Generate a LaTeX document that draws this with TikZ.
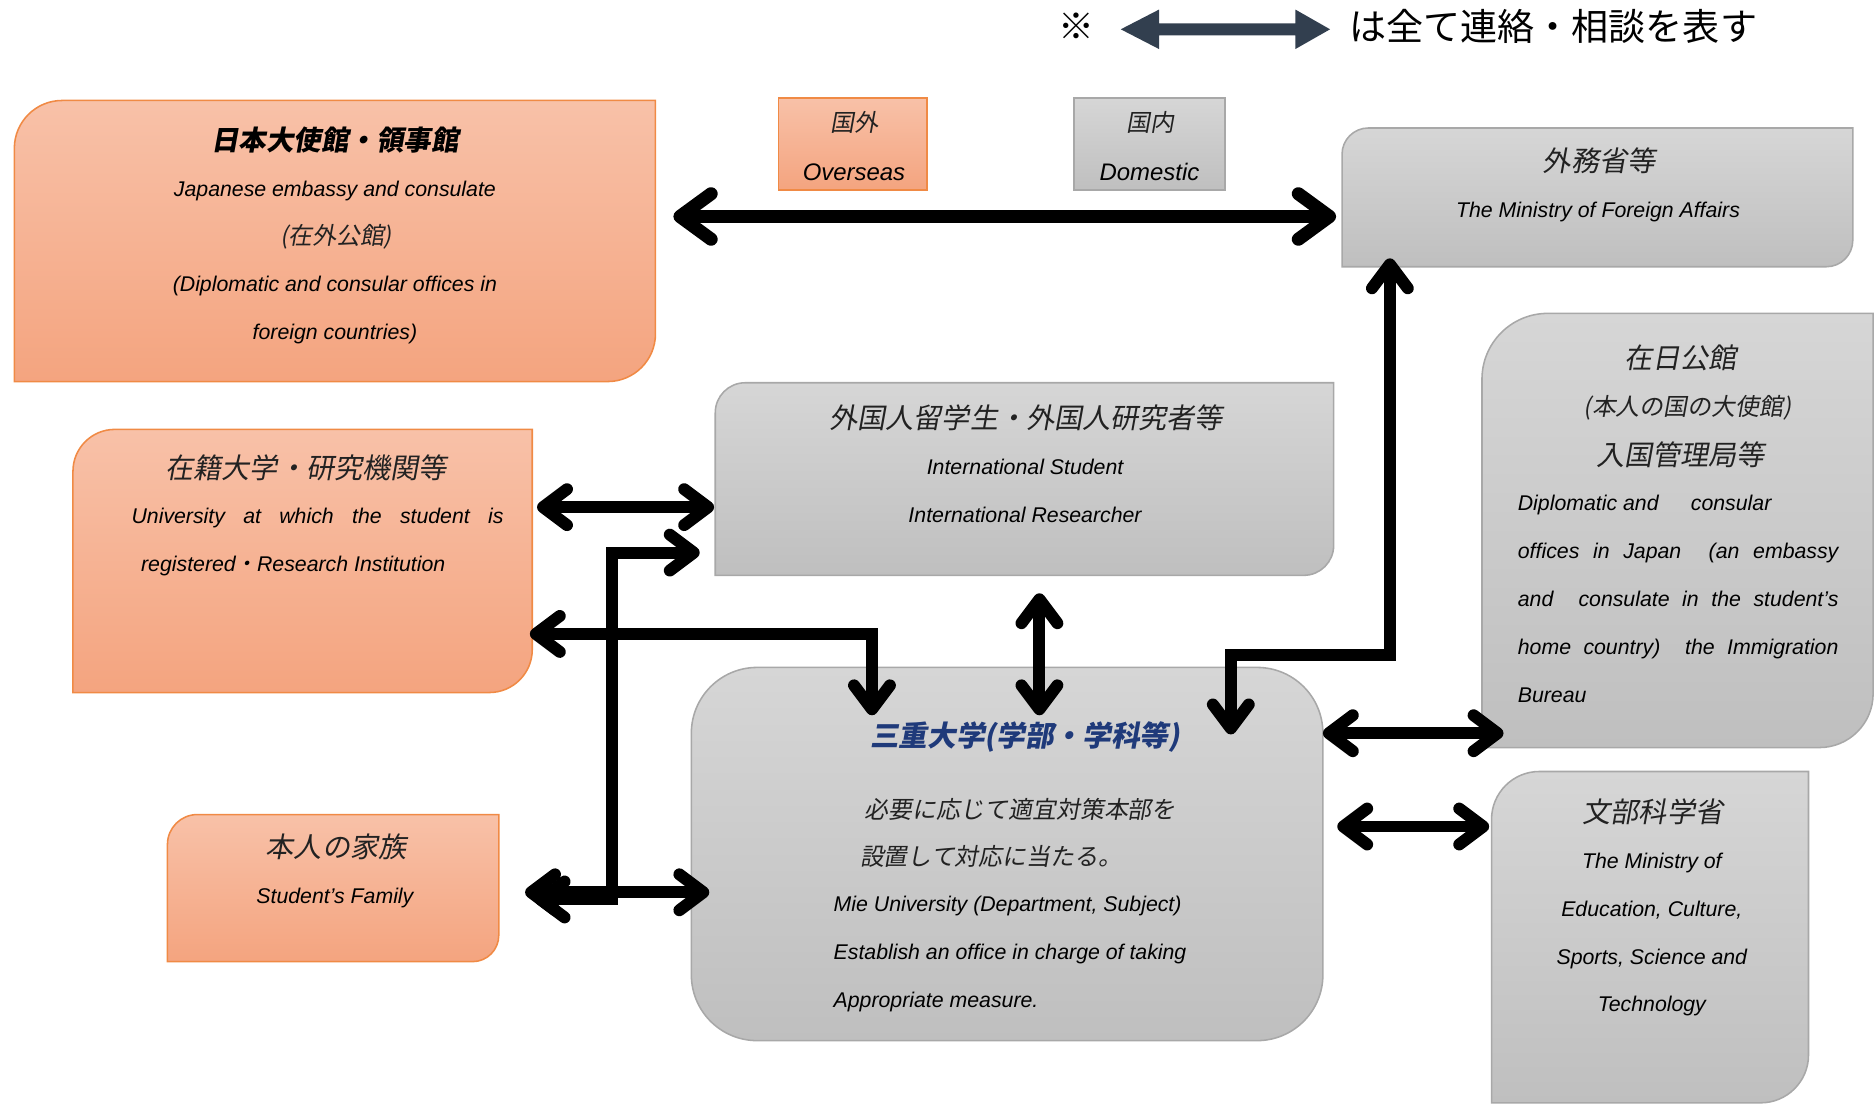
\documentclass[tikz,border=0pt]{standalone}
\usepackage{fontspec}
\setmainfont{Liberation Sans}
\newfontfamily\jafont{Noto Sans CJK JP}[FakeSlant=0.18]
\newfontfamily\jaupfont{Noto Sans CJK JP}
\usetikzlibrary{arrows.meta,calc}
\definecolor{oTop}{HTML}{F8C1A8}
\definecolor{oBot}{HTML}{F4A47F}
\definecolor{oLine}{HTML}{F08A45}
\definecolor{gTop}{HTML}{D6D6D6}
\definecolor{gBot}{HTML}{BFBFBF}
\definecolor{gLine}{HTML}{A8A8A8}
\definecolor{legendc}{HTML}{323F4F}
\definecolor{navy}{HTML}{1F3A7A}
\definecolor{jtext}{HTML}{222222}
\tikzset{
  boxnode/.style={inner sep=0, outer sep=0},
  obox/.style={top color=oTop, bottom color=oBot, draw=oLine, line width=1.3},
  gbox/.style={top color=gTop, bottom color=gBot, draw=gLine, line width=1.3},
  lbl/.style={inner sep=0, outer sep=0, anchor=base},
  en/.style={font=\fontsize{17.8}{20}\selectfont\itshape},
  jt/.style={font=\fontsize{23.5}{26}\selectfont\jafont, text=jtext},
  js/.style={font=\fontsize{20}{22}\selectfont\jafont, text=jtext},
  conn/.style={line width=10, >={Straight Barb[length=20pt,width=30pt,line cap=round,line join=round]}, <->},
  connA/.style={line width=11, >={Straight Barb[length=26pt,width=38pt,line cap=round,line join=round]}, <->},
}
% box with rounded top-left (#3) and bottom-right (#4) corners
\newcommand\tlbrbox[4]{%
  \path[#1] (#2.south west) -- ([yshift=-#3]#2.north west)
    arc[start angle=180, end angle=90, radius=#3] -- (#2.north east)
    -- ([yshift=#4]#2.south east) arc[start angle=0, end angle=-90, radius=#4] -- cycle;}
\begin{document}
\begin{tikzpicture}[x=1pt,y=1pt]
\useasboundingbox (0,0) rectangle (1567.6,-923);
% ---------- box placeholders ----------
\node[boxnode, minimum width=536, minimum height=235] (emb)  at (280,-201.5) {};
\node[boxnode, minimum width=124, minimum height=77]  (ovs)  at (713,-120.5) {};
\node[boxnode, minimum width=126, minimum height=77]  (dom)  at (961,-120.5) {};
\node[boxnode, minimum width=427, minimum height=116] (mofa) at (1335.5,-165) {};
\node[boxnode, minimum width=384, minimum height=220] (univ) at (253,-469) {};
\node[boxnode, minimum width=517, minimum height=161] (intl) at (856.5,-400.5) {};
\node[boxnode, minimum width=327, minimum height=363] (zai)  at (1402.5,-443.5) {};
\node[boxnode, minimum width=277, minimum height=123] (fam)  at (278.5,-742.5) {};
\node[boxnode, minimum width=265, minimum height=277] (mext) at (1379.5,-783.5) {};
% ---------- box shapes ----------
\tlbrbox{obox}{emb}{40}{40}
\path[obox] (ovs.south west) rectangle (ovs.north east);
\path[gbox] (dom.south west) rectangle (dom.north east);
\tlbrbox{gbox}{mofa}{22}{22}
\tlbrbox{obox}{univ}{35}{36}
\tlbrbox{gbox}{intl}{25}{25}
\tlbrbox{gbox}{zai}{55}{45}
\tlbrbox{obox}{fam}{25}{22}
\tlbrbox{gbox}{mext}{40}{40}
\node[boxnode, gbox, rounded corners=55, minimum width=528, minimum height=312] (mie) at (842,-714) {};
% ---------- legend ----------
\node[lbl, font=\fontsize{30}{32}\selectfont\jaupfont] (kome) at (900,-33) {※};
\fill[legendc] (937,-24.5) -- (969,-8) -- (969,-19.5) -- (1083,-19.5) -- (1083,-8) -- (1112,-24.5)
  -- (1083,-41) -- (1083,-29.5) -- (969,-29.5) -- (969,-41) -- cycle;
\node[lbl, anchor=base west, font=\fontsize{31}{34}\selectfont\jaupfont] (legT) at (1128,-34) {は全て連絡・相談を表す};
% ---------- texts ----------
% embassy
\node[lbl, font=\fontsize{23}{26}\selectfont\jafont\bfseries] (embT) at (280,-126) {日本大使館・領事館};
\node[lbl, en] (emb1) at (280,-164) {Japanese embassy and consulate};
\node[lbl, js] (emb2) at (281,-204) {(在外公館)};
\node[lbl, en] (emb3) at (280,-244) {(Diplomatic and consular offices in};
\node[lbl, en] (emb4) at (280,-284) {foreign countries)};
% overseas / domestic
\node[lbl, js] (ovsT) at (714,-110) {国外};
\node[lbl, font=\fontsize{20}{22}\selectfont\itshape] (ovsE) at (714,-151) {Overseas};
\node[lbl, js] (domT) at (962,-110) {国内};
\node[lbl, font=\fontsize{20}{22}\selectfont\itshape] (domE) at (961,-151) {Domestic};
% ministry of foreign affairs
\node[lbl, jt] (mofaT) at (1337,-143) {外務省等};
\node[lbl, en] (mofaE) at (1336,-182) {The Ministry of Foreign Affairs};
% university registered
\node[lbl, jt] (univT) at (256,-400) {在籍大学・研究機関等};
\node[lbl, en, anchor=base west] (univ1) at (110,-438) {\hbox to 311pt{University\hfill at\hfill which\hfill the\hfill student\hfill is}};
\node[lbl, en, anchor=base west] (univ2) at (118,-478) {registered{\jafont ・}Research Institution};
% international students
\node[lbl, jt] (intlT) at (858,-358) {外国人留学生・外国人研究者等};
\node[lbl, en] (intl1) at (857,-397) {International Student};
\node[lbl, en] (intl2) at (857,-437) {International Researcher};
% zainichi
\node[lbl, jt] (zaiT) at (1405,-308) {在日公館};
\node[lbl, js] (zai1) at (1411,-347) {(本人の国の大使館)};
\node[lbl, jt] (zai2) at (1405,-389) {入国管理局等};
\node[lbl, en, anchor=base west] (zai3) at (1269,-427) {\hbox to 212pt{Diplomatic and\hfill consular}};
\node[lbl, en, anchor=base west] (zai4) at (1269,-467) {\hbox to 268pt{offices\hfill in\hfill Japan\hfill\hfill (an\hfill embassy}};
\node[lbl, en, anchor=base west] (zai5) at (1269,-507) {\hbox to 268pt{and\hfill\hfill consulate\hfill in\hfill the\hfill student’s}};
\node[lbl, en, anchor=base west] (zai6) at (1269,-547) {\hbox to 268pt{home\hfill country)\hfill\hfill the\hfill Immigration}};
\node[lbl, en, anchor=base west] (zai7) at (1269,-587) {Bureau};
% Mie university
\node[lbl, font=\fontsize{24}{26}\selectfont\jafont\bfseries, text=navy] (mieT) at (857,-624) {三重大学(学部・学科等)};
\node[lbl, js, anchor=base west] (mie1) at (723,-684) {必要に応じて適宜対策本部を};
\node[lbl, js, anchor=base west] (mie2) at (719,-724) {設置して対応に当たる。};
\node[lbl, en, anchor=base west] (mie3) at (697,-762) {Mie University (Department, Subject)};
\node[lbl, en, anchor=base west] (mie4) at (697,-802) {Establish an office in charge of taking};
\node[lbl, en, anchor=base west] (mie5) at (697,-842) {Appropriate measure.};
% family
\node[lbl, jt] (famT) at (281,-717) {本人の家族};
\node[lbl, en] (famE) at (280,-755) {Student’s Family};
% MEXT
\node[lbl, jt] (mextT) at (1382,-688) {文部科学省};
\node[lbl, en] (mext1) at (1381,-726) {The Ministry of};
\node[lbl, en] (mext2) at (1381,-766) {Education, Culture,};
\node[lbl, en] (mext3) at (1381,-806) {Sports, Science and};
\node[lbl, en] (mext4) at (1381,-846) {Technology};
% ---------- connectors ----------
\draw[connA] ($(emb.east |- 0,-181)+(15,0)$) -- ($(mofa.west |- 0,-181)+(-5,0)$);
\draw[conn] ($(univ.east |- 0,-424)+(4,0)$) -- ($(intl.west |- 0,-424)+(-1,0)$);
\draw[conn] ($(fam.east |- 0,-752)+(30,0)$) -| ($(intl.west |- 0,-462)+(-86,0)$) -- ($(intl.west |- 0,-462)+(-13,0)$);
\draw[conn] ($(fam.east |- 0,-746)+(22,0)$) -- ($(mie.west |- 0,-746)+(15,0)$);
\draw[conn] ($(univ.east |- 0,-530)+(-2,0)$) -| ($(mie.north west)+(151,-40)$);
\draw[conn] ($(intl.south west)+(271,-15)$) -- ($(mie.north west)+(291,-40)$);
\draw[conn] ($(mofa.south west)+(40,7)$) |- ($(mie.north west)+(451,10)$) -- ($(mie.north west)+(451,-56)$);
\draw[conn] (mie.east |- 0,-613) -- ($(zai.west |- 0,-613)+(18,0)$);
\draw[conn] ($(mie.east |- 0,-691)+(12,0)$) -- ($(mext.west |- 0,-691)+(-2,0)$);
\end{tikzpicture}
\end{document}
